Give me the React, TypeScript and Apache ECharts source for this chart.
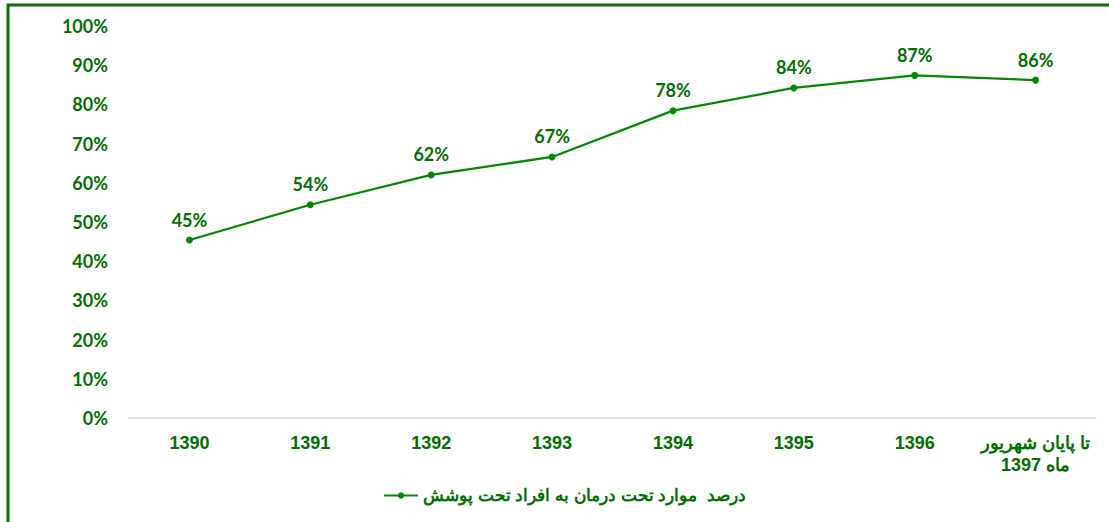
import React, { useEffect, useRef } from "react";
import * as echarts from "echarts";

const categories = ["1390", "1391", "1392", "1393", "1394", "1395", "1396", "تا پایان شهریور\nماه 1397"];
const seriesName = "درصد  موارد تحت درمان به افراد تحت پوشش";
const values = [45.4, 54.4, 62.0, 66.6, 78.4, 84.2, 87.4, 86.2];
const yTicks = [0, 10, 20, 30, 40, 50, 60, 70, 80, 90, 100];

const GREEN = "#007000";
const LINE = "#008a00";

export default function App() {
  const ref = useRef<HTMLDivElement>(null);
  useEffect(() => {
    if (!ref.current) return;
    const chart = echarts.init(ref.current, null, { renderer: "svg" });
    chart.setOption({
      animation: false,
      backgroundColor: "#ffffff",
      graphic: [
        {
          type: "rect",
          shape: { x: 8, y: 5, width: 1200, height: 600 },
          style: { fill: "none", stroke: "#0b6e0b", lineWidth: 3 },
          silent: true,
        },
      ],
      grid: { left: 129, right: 13, top: 26, bottom: 104, containLabel: false },
      legend: {
        bottom: 13,
        left: 378,
        itemWidth: 34,
        itemHeight: 8,
        itemGap: 4,
        textStyle: { color: GREEN, fontWeight: "bold", fontSize: 17, fontFamily: "Liberation Sans, Arial, sans-serif" },
        data: [seriesName],
      },
      xAxis: {
        type: "category",
        data: categories,
        axisLine: { show: true, lineStyle: { color: "#d9d9d9", width: 1.5 } },
        axisTick: { show: false },
        axisLabel: {
          color: GREEN,
          fontWeight: "bold",
          fontSize: 18,
          fontFamily: "Liberation Sans, Arial, sans-serif",
          margin: 14,
          lineHeight: 22,
          interval: 0,
        },
      },
      yAxis: {
        type: "value",
        min: yTicks[0],
        max: yTicks[yTicks.length - 1],
        interval: 10,
        axisLine: { show: false },
        axisTick: { show: false },
        splitLine: { show: false },
        axisLabel: {
          color: GREEN,
          fontWeight: "bold",
          fontSize: 18,
          fontFamily: "Lato, 'Open Sans', sans-serif",
          margin: 21,
          formatter: (v: number) => `${v}%`,
        },
      },
      series: [
        {
          name: seriesName,
          type: "line",
          data: values,
          symbol: "circle",
          symbolSize: 7,
          lineStyle: { color: LINE, width: 2.25 },
          itemStyle: { color: LINE },
          label: {
            show: true,
            position: "top",
            distance: 8,
            color: GREEN,
            fontWeight: "bold",
            fontSize: 18,
            fontFamily: "Lato, 'Open Sans', sans-serif",
            formatter: (p: any) => `${Math.round(p.value)}%`,
          },
        },
      ],
    });
    return () => chart.dispose();
  }, []);
  return <div ref={ref} style={{ position: "absolute", left: 0, top: 0, width: 1109, height: 522 }} />;
}
